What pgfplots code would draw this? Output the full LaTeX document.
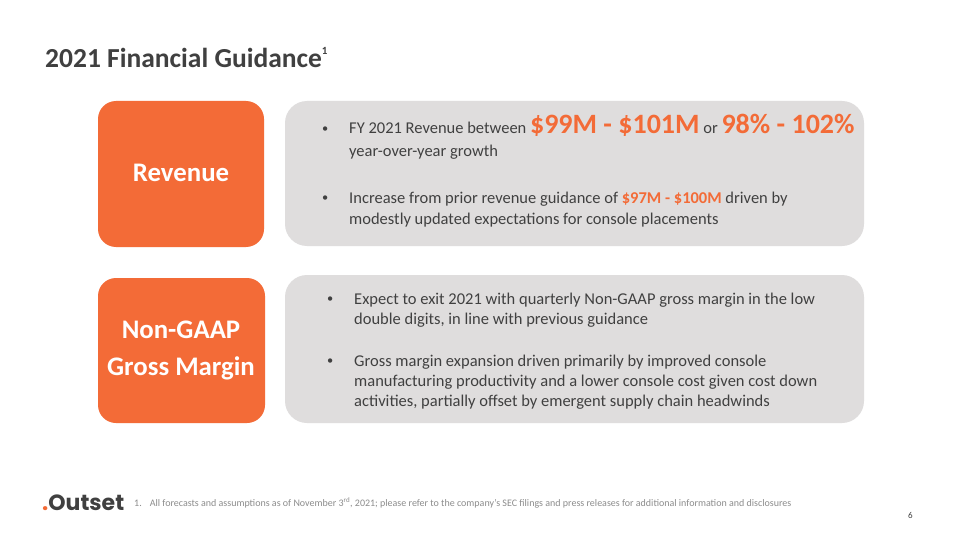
\documentclass[border=0pt]{standalone}
\usepackage{pgfplots}
\pgfplotsset{compat=1.18}
\usepackage{fontspec}
\setmainfont{Carlito}
\newfontfamily\logofont{Poppins}
\definecolor{orng}{HTML}{F36B37}
\definecolor{boxgray}{HTML}{DFDDDD}
\definecolor{txt}{HTML}{404040}
\definecolor{foot}{HTML}{8C8C8C}
\newcommand{\fs}[2]{\fontsize{#1}{#2}\selectfont}
\newcommand{\bul}{\raisebox{0.08em}{\scalebox{0.75}{\textbullet}}}
\begin{document}
\begin{tikzpicture}
\begin{axis}[
  scale only axis, width=960pt, height=540pt,
  xmin=0, xmax=960, ymin=0, ymax=540, y dir=reverse,
  axis lines=none, clip=false, ticks=none]
\fill[white] (rel axis cs:0,0) rectangle (rel axis cs:1,1);
% boxes
\addplot[draw=none, fill=orng, rounded corners=18pt] coordinates {(98,101) (264,101) (264,247) (98,247)} -- cycle;
\addplot[draw=none, fill=boxgray, rounded corners=22pt] coordinates {(285,101) (864,101) (864,246) (285,246)} -- cycle;
\addplot[draw=none, fill=orng, rounded corners=18pt] coordinates {(98,278) (265,278) (265,423) (98,423)} -- cycle;
\addplot[draw=none, fill=boxgray, rounded corners=22pt] coordinates {(285,275) (864,275) (864,423) (285,423)} -- cycle;
% title
\node[anchor=base west, inner sep=0pt, text=txt, font=\fs{27.5}{32}\bfseries] at (axis cs:45,68) {2021 Financial Guidance\raisebox{0.5em}{\fs{11}{12}1}};
% orange labels
\node[text=white, font=\fs{26.8}{30}\bfseries, inner sep=0pt] at (axis cs:181,173) {Revenue};
\node[text=white, font=\fs{26.8}{30}\bfseries, inner sep=0pt] at (axis cs:181,330) {Non-GAAP};
\node[text=white, font=\fs{26.8}{30}\bfseries, inner sep=0pt] at (axis cs:181,368) {Gross Margin};
% box 1 text
\begin{scope}[every node/.style={anchor=base west, inner sep=0pt, text=txt, font=\fs{16.5}{20}}]
\node at (axis cs:322,134) {\bul};
\node at (axis cs:349,134) {FY 2021 Revenue between \textcolor{orng}{\fs{28}{30}\bfseries\$99M - \$101M} or \textcolor{orng}{\fs{28}{30}\bfseries 98\% - 102\%}};
\node at (axis cs:349,157) {year-over-year growth};
\node at (axis cs:322,203) {\bul};
\node at (axis cs:349,203) {Increase from prior revenue guidance of \textcolor{orng}{\bfseries\$97M - \$100M} driven by};
\node at (axis cs:349,224) {modestly updated expectations for console placements};
% box 2 text
\node at (axis cs:327,304) {\bul};
\node at (axis cs:354,304) {Expect to exit 2021 with quarterly Non-GAAP gross margin in the low};
\node at (axis cs:354,324) {double digits, in line with previous guidance};
\node at (axis cs:327,366) {\bul};
\node at (axis cs:354,366) {Gross margin expansion driven primarily by improved console};
\node at (axis cs:354,386) {manufacturing productivity and a lower console cost given cost down};
\node at (axis cs:354,406) {activities, partially offset by emergent supply chain headwinds};
\end{scope}
% footer
\node[anchor=base west, inner sep=0pt, font=\logofont\fs{22}{24}\bfseries, text=txt] at (axis cs:42,510) {\textcolor{orng}{.}Outset};
\node[anchor=base west, inner sep=0pt, font=\fs{10}{12}, text=foot] at (axis cs:134,506) {1.\hspace{0.8em}All forecasts and assumptions as of November 3\textsuperscript{rd}, 2021; please refer to the company's SEC filings and press releases for additional information and disclosures};
\node[anchor=base west, inner sep=0pt, font=\fs{9}{10}, text=txt] at (axis cs:908,518) {6};
\end{axis}
\end{tikzpicture}
\end{document}
